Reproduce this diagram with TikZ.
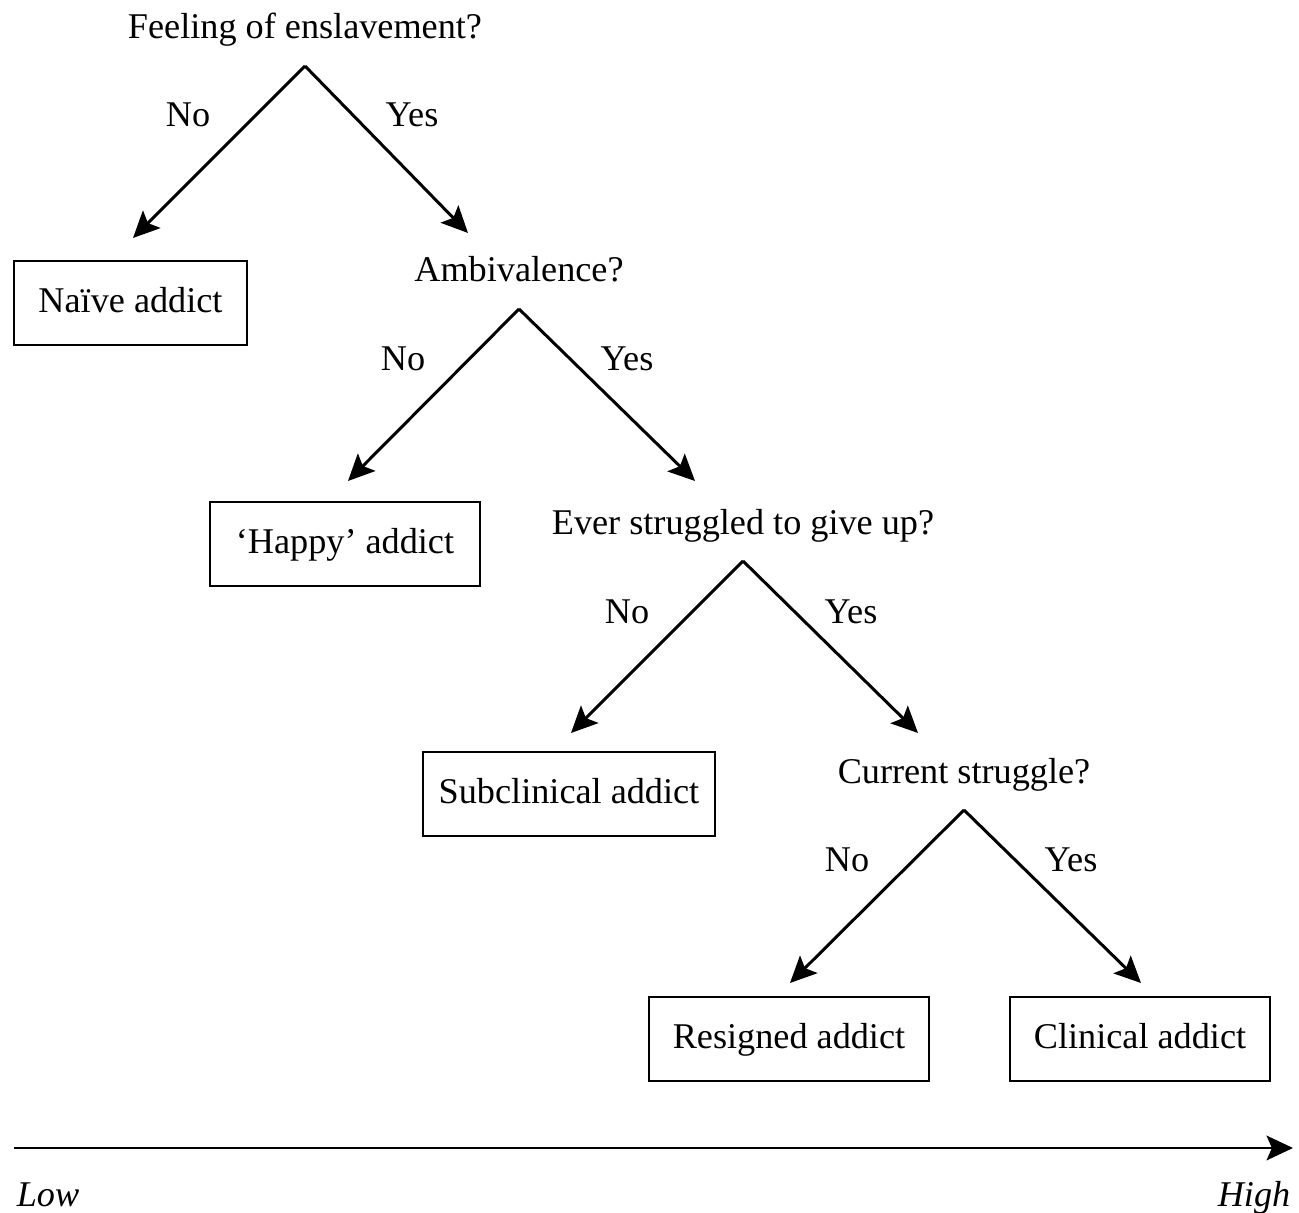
\documentclass[tikz,border=0pt]{standalone}
\usepackage{fontspec}
\setmainfont{Liberation Serif}
\usetikzlibrary{arrows.meta}

\begin{document}
\begin{tikzpicture}[x=0.01cm, y=-0.01cm, font=\fontsize{10.3}{12}\selectfont,
                    every node/.style = {text height=7.8pt, text depth=2.3pt}]
            \useasboundingbox (0,0) rectangle (1299,1213);
            % questions
            \begin{scope}[every node/.append style = {inner sep=0pt}]
                \node(q1) at (305,28.7) {Feeling of enslavement?};
                \node(q2) at (519,271.7) {Ambivalence?};
                \node(q3) at (743,524.7) {Ever struggled to give up?};
                \node(q4) at (964,773.7) {Current struggle?};
            \end{scope}

            % outcomes
            \begin{scope}[every node/.append style = {draw, line width=0.45pt, inner xsep=0.1cm, minimum height=0.84cm}]
                \node[minimum width=2.33cm](b1) at (130.5,303) {Naïve addict};
                \node[minimum width=2.70cm](b2) at (345,544) {‘Happy’ addict};
                \node[minimum width=2.92cm](b3) at (569,794) {Subclinical addict};
                \node[minimum width=2.80cm](b4) at (789,1039) {Resigned addict};
                \node[minimum width=2.60cm](b5) at (1140,1039) {Clinical addict};
            \end{scope}

            % branch points and arrow ends
            \coordinate(a1) at (305,66);   \coordinate(n1) at (133,238);  \coordinate(y1) at (468,233);
            \coordinate(a2) at (519,309);  \coordinate(n2) at (348,481);  \coordinate(y2) at (695,481);
            \coordinate(a3) at (743,561);  \coordinate(n3) at (571,733);  \coordinate(y3) at (918,733);
            \coordinate(a4) at (964,810);  \coordinate(n4) at (790,983);  \coordinate(y4) at (1141,983);
            \coordinate(lo) at (14,1148);  \coordinate(hi) at (1293,1148);

            \begin{scope}[every node/.append style = {inner sep=0pt}]
                \node(no1) at (188,117) {No};   \node(yes1) at (412,117) {Yes};
                \node(no2) at (403,361) {No};   \node(yes2) at (627,361) {Yes};
                \node(no3) at (627,614) {No};   \node(yes3) at (851,614) {Yes};
                \node(no4) at (847,862) {No};   \node(yes4) at (1071,862) {Yes};
                \node(low) at (48,1197) {\itshape Low};
                \node(high) at (1254,1197) {\itshape High};
            \end{scope}

            \begin{scope}[every edge/.style = {draw, line width=0.85pt, -{Stealth[length=7.5pt, width=7pt, inset=1.5pt]}}]
                \path(a1) edge[] (n1);
                \path(a1) edge[] (y1);
                \path(a2) edge[] (n2);
                \path(a2) edge[] (y2);
                \path(a3) edge[] (n3);
                \path(a3) edge[] (y3);
                \path(a4) edge[] (n4);
                \path(a4) edge[] (y4);
                \path(lo) edge[] (hi);
            \end{scope}
        \end{tikzpicture}
\end{document}
